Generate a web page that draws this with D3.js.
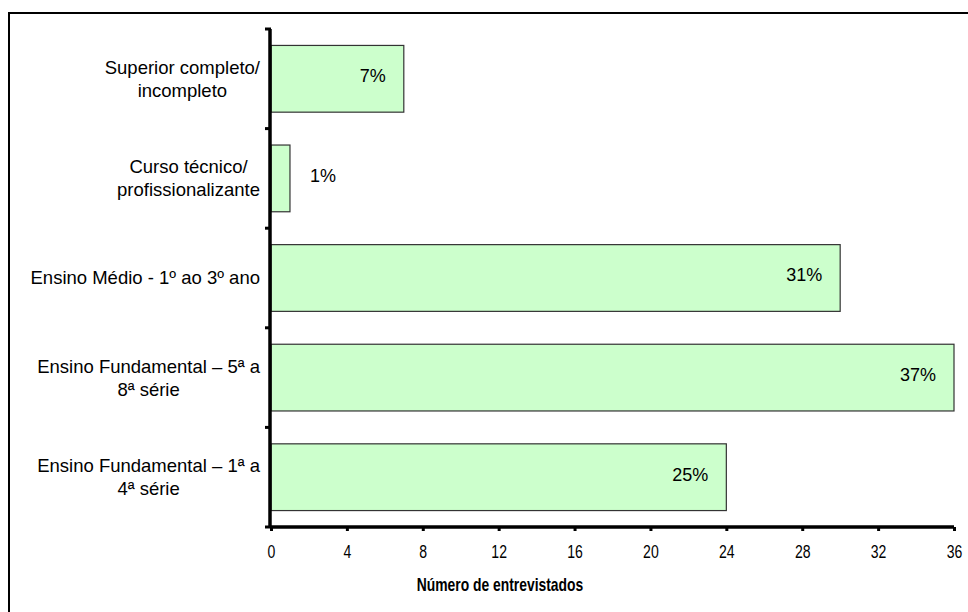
<!DOCTYPE html>
<html>
<head>
<meta charset="utf-8">
<script src="https://cdn.jsdelivr.net/npm/d3@7"></script>
<style>
  html, body { margin: 0; padding: 0; background: #fff; }
  svg { display: block; font-family: "Liberation Sans", Arial, sans-serif; }
</style>
</head>
<body>
<svg id="chart" width="968" height="612"></svg>
<script>
// Escolaridade dos entrevistados (de cima para baixo)
const categories = [
  ["Superior completo/", "incompleto"],
  ["Curso técnico/", "profissionalizante"],
  ["Ensino Médio - 1º ao 3º ano"],
  ["Ensino Fundamental – 5ª a", "8ª série"],
  ["Ensino Fundamental – 1ª a", "4ª série"]
];
const counts = [7, 1, 30, 36, 24];
const percentLabels = ["7%", "1%", "31%", "37%", "25%"];
const xTicks = [0, 4, 8, 12, 16, 20, 24, 28, 32, 36];
const xTitle = "Número de entrevistados";

const svg = d3.select("#chart");
const plot = { left: 271, right: 954, top: 29, bottom: 527 };

// outer frame (only its top and left edges fall inside the canvas)
svg.append("rect")
  .attr("x", 9).attr("y", 13)
  .attr("width", 1200).attr("height", 900)
  .attr("fill", "none").attr("stroke", "#000").attr("stroke-width", 2);

const x = d3.scaleLinear().domain([0, 36]).range([plot.left, plot.right]);
const y = d3.scaleBand()
  .domain(d3.range(categories.length))
  .range([plot.top, plot.bottom])
  .paddingInner(0.33)
  .paddingOuter(0.165);

// bars
svg.append("g").selectAll("rect")
  .data(counts)
  .join("rect")
  .attr("x", x(0))
  .attr("y", (d, i) => y(i))
  .attr("width", d => x(d) - x(0))
  .attr("height", y.bandwidth())
  .attr("fill", "#ccffcc")
  .attr("stroke", "#333")
  .attr("stroke-width", 1.2);

// percentage labels
svg.append("g").selectAll("text")
  .data(counts)
  .join("text")
  .attr("x", d => d >= 4 ? x(d) - 18 : x(d) + 20)
  .attr("y", (d, i) => y(i) + y.bandwidth() / 2 - 3)
  .attr("dy", "0.35em")
  .attr("text-anchor", d => d >= 4 ? "end" : "start")
  .attr("font-size", 18)
  .attr("fill", "#000")
  .text((d, i) => percentLabels[i]);

// x axis
const xAxis = svg.append("g")
  .attr("transform", `translate(0,${plot.bottom})`)
  .call(d3.axisBottom(x).tickValues(xTicks).tickSize(4).tickSizeOuter(0).tickPadding(14));
xAxis.select(".domain").attr("stroke", "#000").attr("stroke-width", 3.5)
  .attr("d", `M${plot.left},0H${plot.right}`);
xAxis.selectAll(".tick line").attr("stroke", "#000").attr("stroke-width", 3);
// condensed tick labels, scaled around their own anchor point
xAxis.selectAll(".tick text")
  .attr("font-size", 19)
  .attr("font-family", "Liberation Sans, Arial, sans-serif")
  .attr("fill", "#000")
  .attr("transform", "scale(0.74,1)");

// y axis: line plus category boundary ticks
const boundaries = d3.range(categories.length + 1).map(i =>
  i < categories.length ? y(i) - y.step() * y.paddingInner() / 2 : plot.bottom);
svg.append("line")
  .attr("x1", plot.left - 1).attr("x2", plot.left - 1)
  .attr("y1", plot.top).attr("y2", plot.bottom + 1)
  .attr("stroke", "#000").attr("stroke-width", 3.5);
svg.append("g").selectAll("line")
  .data(boundaries)
  .join("line")
  .attr("x1", plot.left - 6).attr("x2", plot.left)
  .attr("y1", d => d).attr("y2", d => d)
  .attr("stroke", "#000").attr("stroke-width", 3);

// category labels: each block right-aligned, lines centred within it
const labelRight = 260;
const lineGap = 23;
const catG = svg.append("g");
categories.forEach((lines, i) => {
  const g = catG.append("g");
  const cy = y(i) + y.bandwidth() / 2;
  const texts = lines.map((s, k) => g.append("text")
    .attr("font-size", 18.5)
    .attr("fill", "#000")
    .attr("text-anchor", "middle")
    .attr("y", cy + (k - (lines.length - 1) / 2) * lineGap)
    .attr("dy", "0.35em")
    .text(s));
  const maxW = d3.max(texts, t => t.node().getComputedTextLength());
  texts.forEach(t => t.attr("x", labelRight - maxW / 2));
});

// axis title
svg.append("text")
  .attr("transform", "translate(500,584) scale(0.73,1)")
  .attr("text-anchor", "middle")
  .attr("dy", "0.35em")
  .attr("font-size", 19)
  .attr("font-weight", "bold")
  .attr("fill", "#000")
  .text(xTitle);
</script>
</body>
</html>
